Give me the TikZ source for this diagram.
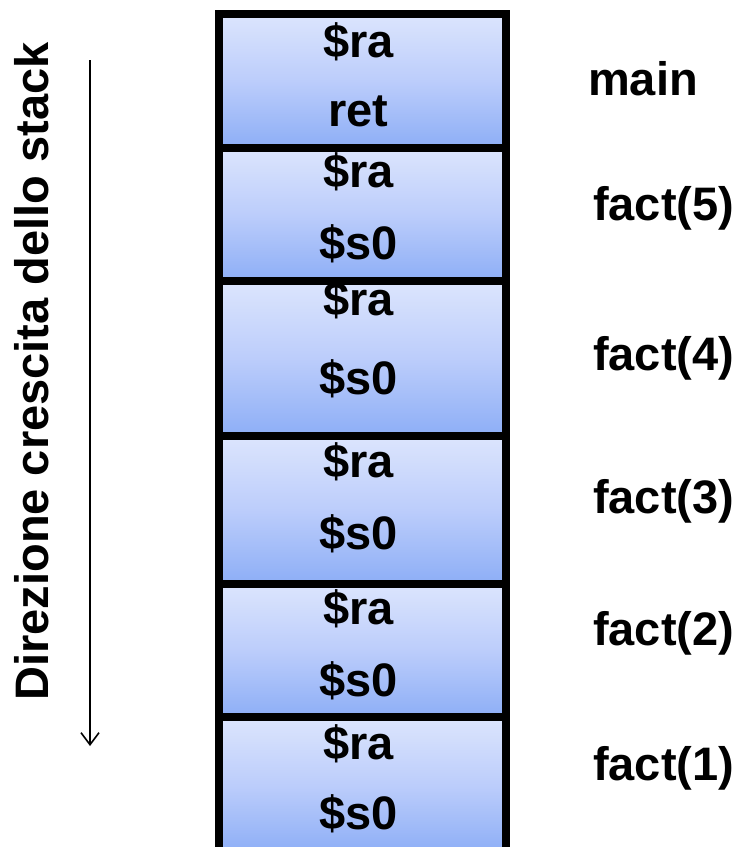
\documentclass[tikz,border=0pt]{standalone}
\usepackage{fontspec}
\setmainfont{Liberation Sans}
\usetikzlibrary{arrows.meta}
\definecolor{slotlight}{RGB}{220,229,253}
\definecolor{slotmid}{RGB}{188,205,251}
\definecolor{slotdark}{RGB}{141,174,246}

\begin{document}
\begin{tikzpicture}[x=1pt, y=-1pt, >={Straight Barb[length=12pt, width=18pt]},
  every node/.style={font=\fontsize{47}{50}\selectfont\bfseries, inner sep=0pt},
  frame/.style={draw, line width=8pt, anchor=north west, minimum width=287pt,
    top color=slotlight, bottom color=slotdark, middle color=slotmid},
  slot/.style={anchor=base}]
\useasboundingbox (0,0) rectangle (741,847);

% one activation frame per call, top to bottom
\foreach \nm/\ytop/\hgt in {main/9.5/134, fact5/143.5/133.5, fact4/277/155,
    fact3/432/147.5, fact2/579.5/133.5, fact1/713/136}
  \node[frame, minimum height=\hgt pt] (\nm) at (215,\ytop) {};

% saved registers inside each frame
\foreach \nm/\ya/\yb/\low in {main/57/126/ret, fact5/187/259/\$s0, fact4/315/394/\$s0,
    fact3/477/549/\$s0, fact2/624/696/\$s0, fact1/759/829/\$s0} {
  \node[slot] (ra-\nm) at (358.5,\ya) {\$ra};
  \node[slot] (lo-\nm) at (358.5,\yb) {\low};
}

% procedure names
\foreach \nm/\x/\y/\lab in {main/588/95/main, fact5/593/220/{fact(5)}, fact4/593/370/{fact(4)},
    fact3/593/513/{fact(3)}, fact2/593/645/{fact(2)}, fact1/593/780/{fact(1)}}
  \node[anchor=base west] (lab-\nm) at (\x,\y) {\lab};

% growth direction
\coordinate (grow-top) at (90,60);
\coordinate (grow-end) at (90,746);
\draw[->, line width=1.6pt] (grow-top) -- (grow-end);
\node[rotate=90, anchor=base] (dir) at (48,371.5) {Direzione crescita dello stack};
\end{tikzpicture}
\end{document}
